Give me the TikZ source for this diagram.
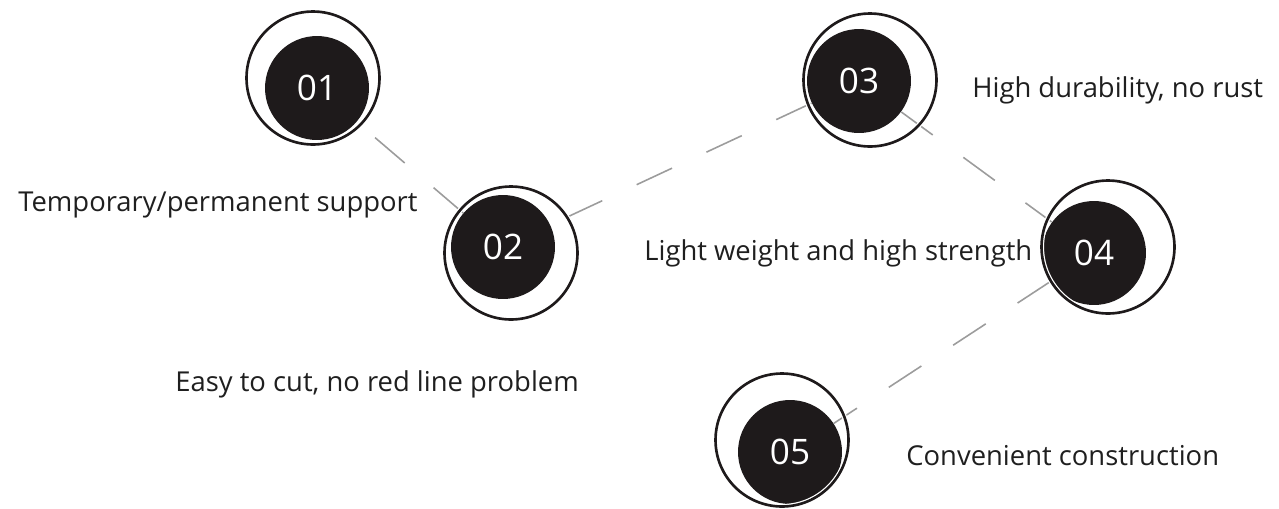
\documentclass[tikz,border=0pt]{standalone}
\usepackage{fontspec}
\setmainfont{Open Sans}
\usetikzlibrary{positioning}
\definecolor{cink}{HTML}{1E1A1B}
\definecolor{cline}{HTML}{9C9C9C}
\definecolor{ctext}{HTML}{1F1F1F}
\tikzset{
  disk/.style={circle,fill=cink,text=white,minimum size=2.08cm,inner sep=0pt,
               font=\fontsize{20}{24}\selectfont},
  ring/.style={circle,minimum size=2.66cm,inner sep=0pt,draw=white,
               double=cink,double distance=1.5pt,line width=0.7pt},
  link/.style={draw=cline,line width=0.9pt,dash pattern=on 0.78cm off 0.76cm},
  lbl/.style={anchor=west,inner sep=0pt,text=ctext,font=\fontsize{15.6}{18}\selectfont},
}

\begin{document}
\begin{tikzpicture}[x=0.02cm,y=-0.02cm]
\useasboundingbox (0,0) rectangle (1279,508);

% ================= bullets (disk + offset ring) =================
\foreach \n/\dx/\dy in {01/317/88,02/503/247,03/859/81,04/1094/253,05/790/452}
  \node[disk] (d\n) at (\dx,\dy) {\n};

% ================= dashed links =================
\draw[link] (d02) -- (d01);
\draw[link] (d03) -- (d02);
\draw[link] (d03) -- (d04);
\draw[link] (d04) -- (d05);

\foreach \n/\rx/\ry in {01/313/78,02/511/253,03/870/80,04/1108/247,05/782/440}
  \node[ring] (r\n) at (\rx,\ry) {};

% ================= labels =================
\node[lbl] (t01) at (18,205) {Temporary/permanent support};
\node[lbl] (t02) at (175,384) {Easy to cut, no red line problem};
\node[lbl] (t03) at (972,90) {High durability, no rust};
\node[lbl] (t04) at (644,253) {Light weight and high strength};
\node[lbl] (t05) at (906,456) {Convenient construction};

\end{tikzpicture}
\end{document}
